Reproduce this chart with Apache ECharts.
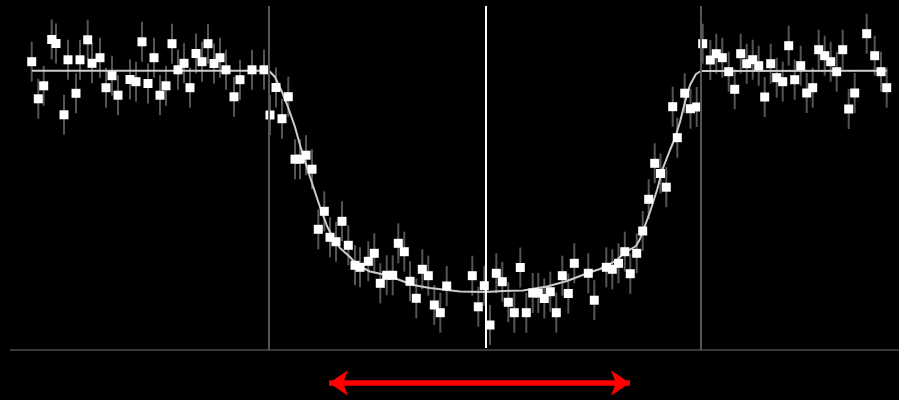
<!DOCTYPE html>
<html>
<head>
<meta charset="utf-8">
<script src="https://cdn.jsdelivr.net/npm/echarts@6/dist/echarts.min.js"></script>
<style>
  html, body { margin: 0; padding: 0; background: #000; }
  #chart { width: 899px; height: 400px; }
</style>
</head>
<body>
<div id="chart"></div>
<script>
// Observed light curve: time (arbitrary units) and flux drop (down = dimmer)
const obsTime = [
  31.7, 38.3, 43.7, 51.7, 56, 64, 68, 76, 80, 87.7, 92, 100, 106, 112, 118, 130, 136, 142, 148, 154,
  160, 166, 172, 178, 184, 190, 196, 202, 208, 214, 220, 226, 234, 240, 252, 264, 270, 276, 282, 288.3,
  295, 300, 306, 312, 318.3, 324.3, 330, 336, 342, 348.3, 355, 360, 368.3, 374.3, 380.3, 386.7, 392.7, 398.3, 404.3, 410,
  416.3, 422.3, 428.3, 434.3, 440.3, 446.7, 472.3, 478.3, 484.3, 490, 496.3, 502.3, 508.3, 514.3, 520.3, 526.3, 532.7, 538.3, 544.3, 550.3,
  556.3, 562.3, 568.3, 574.3, 588.3, 594.3, 606.3, 612.3, 618.5, 624.8, 630.3, 636.7, 642.7, 648.7, 654.7, 660.5, 666.3, 672.7, 677.3, 684.7,
  690.5, 696.7, 702.7, 710.3, 716.3, 722.3, 728.7, 734.7, 740.7, 746.7, 752.7, 758.7, 764.7, 770.7, 776.7, 782.7, 788.7, 794.7, 800.7, 806.7,
  812.7, 818.7, 824.7, 830.7, 836.7, 842.7, 848.7, 854.7, 866.7, 874.7, 881, 886.7
];
const obsDrop = [
  61.7, 98.8, 85.8, 39.5, 43.5, 114.8, 59.8, 93.3, 59.8, 39.8, 63.3, 57.7, 87.7, 75.7, 95.2, 79.5, 81.7, 41.8, 83.5, 57.7,
  95.2, 85.8, 43.7, 69.8, 63.3, 87.7, 53.5, 61.7, 43.7, 63.5, 57.7, 69.8, 96.8, 79.7, 69.8, 69.8, 115, 87.5, 118.7, 96.7,
  159.2, 159.2, 155.2, 169.2, 229.3, 211.3, 237.3, 241.7, 221.3, 245.3, 265.3, 267.3, 261.3, 253.3, 283.3, 275.3, 275.3, 243.3, 251.7, 281.3,
  298.3, 269.3, 275.7, 305, 312.7, 286, 275.7, 306.8, 285.7, 325, 273.3, 281.7, 302.3, 312.7, 267.5, 312.7, 293, 293, 298.5, 291.7,
  312.7, 275.7, 293.5, 263.3, 273.3, 300.2, 267.3, 269.3, 263.3, 251.7, 273.7, 253.3, 231, 199.3, 163.3, 173.5, 187.2, 106.7, 137.7, 93.2,
  108.7, 107, 43.7, 60, 53.7, 57.7, 71.7, 89.3, 53.7, 63.7, 59.7, 65.7, 97, 63.7, 77.7, 81.7, 45.7, 79.7, 65.7, 93,
  87.7, 49.7, 55.7, 61.7, 71.7, 49.7, 109, 93, 33.7, 55.7, 71.7, 87.7
];
const errHalf = 20;

// Fitted transit model
const modelTime = [
  32, 269, 275, 282, 288, 295, 300, 310, 320, 327, 333, 340, 350, 357, 370, 386, 397, 413, 430, 460,
  486, 503, 523, 547, 567, 588, 600, 610, 618, 625, 631, 636, 640, 643, 650, 657, 663, 670, 675, 680,
  685, 690, 696, 701, 886.7
];
const modelDrop = [
  70.7, 70.7, 77, 92, 107, 127, 145, 177, 207, 226, 238, 248, 257, 265, 271.5, 275, 279, 285, 288, 291.5,
  292, 291, 290.5, 286.5, 281, 273, 269, 264, 259, 252, 249, 246, 239, 231, 212, 190, 168, 150, 138, 122,
  102, 85, 74, 71, 70.7
];

// Contact times, mid-transit and the marked duration
const contactTimes = [269, 701];
const midTime = 486;
const durationSpan = [329, 630];
const durationLevel = 383;
const refTop = 6;
const floorLevel = 350;
const axisExtent = [10, 899];

const chart = echarts.init(document.getElementById('chart'), null, { renderer: 'canvas' });

const obsData = obsTime.map((t, i) => [t, obsDrop[i]]);
const modelData = modelTime.map((t, i) => [t, modelDrop[i]]);

const option = {
  backgroundColor: '#000',
  animation: false,
  grid: { left: 0, right: 0, top: 0, bottom: 0 },
  xAxis: { type: 'value', min: 0, max: 899, show: false },
  yAxis: { type: 'value', min: 0, max: 400, inverse: true, show: false },
  series: [
    {
      name: 'errors',
      type: 'custom',
      z: 1,
      silent: true,
      data: obsData,
      renderItem: function (params, api) {
        const t = api.value(0), f = api.value(1);
        const a = api.coord([t, f - errHalf]);
        const b = api.coord([t, f + errHalf]);
        return {
          type: 'line',
          shape: { x1: a[0], y1: a[1], x2: b[0], y2: b[1] },
          style: { stroke: '#555555', lineWidth: 2 }
        };
      }
    },
    {
      name: 'model',
      type: 'line',
      z: 2,
      silent: true,
      showSymbol: false,
      data: modelData,
      lineStyle: { color: '#cccccc', width: 2 }
    },
    {
      name: 'observed',
      type: 'scatter',
      z: 3,
      silent: true,
      symbol: 'rect',
      symbolSize: 9,
      data: obsData,
      itemStyle: { color: '#ffffff', opacity: 1 }
    },
    {
      name: 'guides',
      type: 'line',
      z: 4,
      data: [],
      markLine: {
        silent: true,
        symbol: 'none',
        label: { show: false },
        animation: false,
        data: [
          [{ coord: [axisExtent[0], floorLevel], lineStyle: { color: '#4a4a4a', width: 1.5, type: 'solid' } },
           { coord: [axisExtent[1], floorLevel] }],
          [{ coord: [contactTimes[0], refTop], lineStyle: { color: '#555555', width: 2, type: 'solid' } },
           { coord: [contactTimes[0], floorLevel] }],
          [{ coord: [contactTimes[1], refTop], lineStyle: { color: '#555555', width: 2, type: 'solid' } },
           { coord: [contactTimes[1], floorLevel] }],
          [{ coord: [midTime, refTop], lineStyle: { color: '#ffffff', width: 2, type: 'solid' } },
           { coord: [midTime, floorLevel - 2] }]
        ]
      }
    },
    {
      name: 'duration',
      type: 'line',
      z: 5,
      data: [],
      markLine: {
        silent: true,
        symbol: ['arrow', 'arrow'],
        symbolSize: [19, 19],
        label: { show: false },
        animation: false,
        lineStyle: { color: '#ff0000', width: 5.5, type: 'solid' },
        itemStyle: { color: '#ff0000' },
        data: [
          [{ coord: [durationSpan[0], durationLevel] }, { coord: [durationSpan[1], durationLevel] }]
        ]
      }
    }
  ]
};

chart.setOption(option);
</script>
</body>
</html>
